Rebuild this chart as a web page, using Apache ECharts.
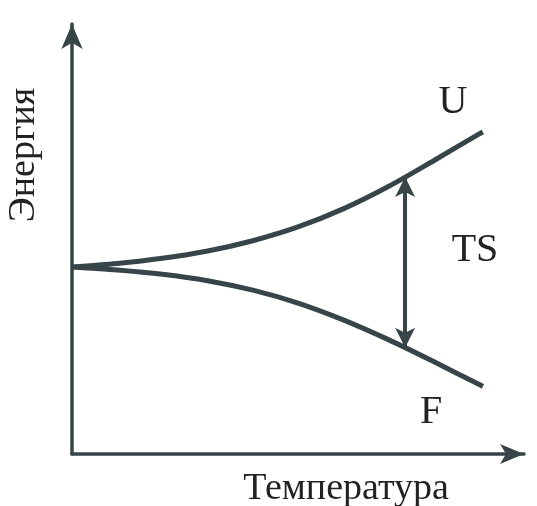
<!DOCTYPE html>
<html><head><meta charset="utf-8">
<script src="https://cdn.jsdelivr.net/npm/echarts@6/dist/echarts.min.js"></script>
<style>html,body{margin:0;padding:0;background:#fff}#c{width:537px;height:506px}</style>
</head><body><div id="c"></div>
<script>
const xValues = [0,1,2,3,4,5,6,7,8,9,9.09];
const uValues = [4.35,4.43,4.55,4.72,4.96,5.28,5.70,6.22,6.82,7.44,7.49];
const fValues = [4.35,4.28,4.18,4.03,3.81,3.51,3.12,2.66,2.15,1.62,1.57];
const tsArrow = {x:7.37, top:6.44, bottom:2.47};
const labels = {u:'U', f:'F', ts:'TS', xName:'Температура', yName:'Энергия'};
const C = '#374548';
const font = '"Liberation Serif","DejaVu Serif",serif';
const uCurve = xValues.map((x,i)=>[x,uValues[i]]);
const fCurve = xValues.map((x,i)=>[x,fValues[i]]);
const chart = echarts.init(document.getElementById('c'));
chart.setOption({
  animation:false,
  grid:{left:72,right:13,top:24,bottom:52},
  xAxis:{type:'value',min:0,max:10,axisLine:{onZero:false,symbol:['none','arrow'],symbolSize:[15,24],lineStyle:{color:C,width:3.5}},axisTick:{show:false},axisLabel:{show:false},splitLine:{show:false}},
  yAxis:{type:'value',min:0,max:10,axisLine:{onZero:false,symbol:['none','arrow'],symbolSize:[16,25],lineStyle:{color:C,width:3.5}},axisTick:{show:false},axisLabel:{show:false},splitLine:{show:false}},
  series:[
    {type:'line',data:uCurve,smooth:0.3,symbol:'none',lineStyle:{color:C,width:5},
      markLine:{silent:true,symbol:['arrow','arrow'],symbolSize:[15,20],label:{show:false},lineStyle:{color:C,width:4,type:'solid'},
        data:[[{coord:[tsArrow.x,tsArrow.top]},{coord:[tsArrow.x,tsArrow.bottom]}]]}},
    {type:'line',data:fCurve,smooth:0.3,symbol:'none',lineStyle:{color:C,width:5}}
  ],
  graphic:[
    {type:'text',style:{text:labels.xName,font:'38px '+font,fill:'#222',align:'center',verticalAlign:'top'},x:346,y:470},
    {type:'text',style:{text:labels.yName,font:'38px '+font,fill:'#222',align:'center',verticalAlign:'middle'},x:24,y:155,rotation:Math.PI/2},
    {type:'text',style:{text:labels.u,font:'40px '+font,fill:'#222',align:'center',verticalAlign:'middle'},x:453,y:102},
    {type:'text',style:{text:labels.ts,font:'40px '+font,fill:'#222',align:'center',verticalAlign:'middle'},x:475,y:250},
    {type:'text',style:{text:labels.f,font:'40px '+font,fill:'#222',align:'center',verticalAlign:'middle'},x:431,y:412}
  ]
});
</script></body></html>
